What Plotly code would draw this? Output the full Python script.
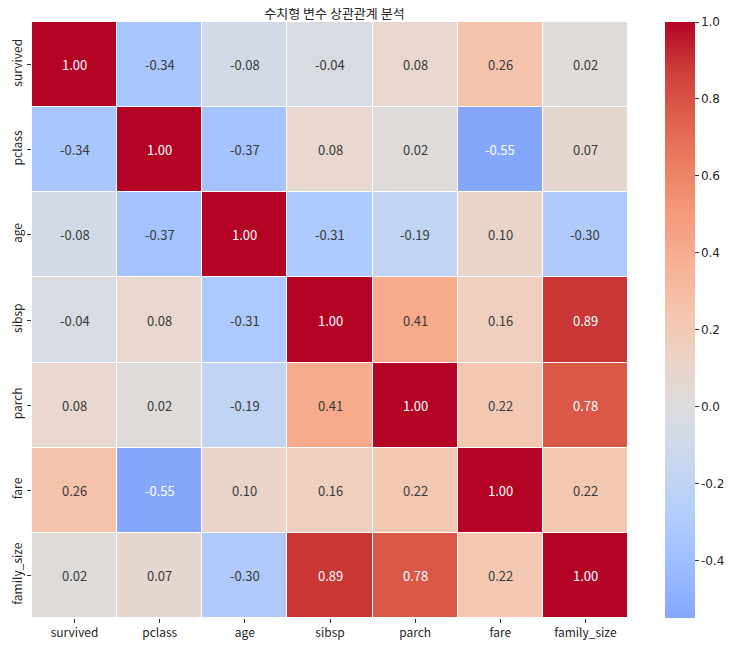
import plotly.graph_objects as go
import numpy as np

cols = ["survived", "pclass", "age", "sibsp", "parch", "fare", "family_size"]

survived = [1.00, -0.34, -0.08, -0.04, 0.08, 0.26, 0.02]
pclass = [-0.34, 1.00, -0.37, 0.08, 0.02, -0.55, 0.07]
age = [-0.08, -0.37, 1.00, -0.31, -0.19, 0.10, -0.30]
sibsp = [-0.04, 0.08, -0.31, 1.00, 0.41, 0.16, 0.89]
parch = [0.08, 0.02, -0.19, 0.41, 1.00, 0.22, 0.78]
fare = [0.26, -0.55, 0.10, 0.16, 0.22, 1.00, 0.22]
family_size = [0.02, 0.07, -0.30, 0.89, 0.78, 0.22, 1.00]

corr = np.array([survived, pclass, age, sibsp, parch, fare, family_size])

# matplotlib coolwarm (subsampled), seaborn center=0 -> cmap spans -1..1
cw_r = [0.2298, 0.3039, 0.3830, 0.4667, 0.5530, 0.6392, 0.7222, 0.7987, 0.8654,
        0.9241, 0.9589, 0.9700, 0.9580, 0.9239, 0.8692, 0.7956, 0.7057]
cw_g = [0.2987, 0.4065, 0.5094, 0.6046, 0.6889, 0.7596, 0.8140, 0.8498, 0.8654,
        0.8274, 0.7698, 0.6943, 0.6028, 0.4973, 0.3783, 0.2413, 0.0156]
cw_b = [0.7537, 0.8450, 0.9174, 0.9682, 0.9954, 0.9982, 0.9766, 0.9317, 0.8654,
        0.7745, 0.6780, 0.5794, 0.4818, 0.3880, 0.3003, 0.2205, 0.1502]

zmin, zmax = corr.min(), 1.0
t = np.linspace(0, 1, len(cw_r))
tmin = (zmin + 1) / 2
stops = [tmin] + [x for x in t if x > tmin]
colorscale = []
for s in stops:
    r = np.interp(s, t, cw_r)
    g = np.interp(s, t, cw_g)
    b = np.interp(s, t, cw_b)
    p = ((-1 + 2 * s) - zmin) / (zmax - zmin)
    colorscale.append([min(max(p, 0), 1), f"rgb({r*255:.0f},{g*255:.0f},{b*255:.0f})"])
colorscale[-1][0] = 1.0

fig = go.Figure(go.Heatmap(
    z=corr, x=cols, y=cols,
    zmin=zmin, zmax=zmax,
    colorscale=colorscale,
    xgap=1, ygap=1,
    colorbar=dict(
        x=1.062, xanchor="left", y=0, yanchor="bottom", len=1.0,
        xpad=0, ypad=0,
        thickness=30, outlinewidth=0,
        tickvals=[-0.4, -0.2, 0.0, 0.2, 0.4, 0.6, 0.8, 1.0],
        ticktext=["-0.4", "-0.2", "0.0", "0.2", "0.4", "0.6", "0.8", "1.0"],
        ticks="outside", ticklen=4, tickcolor="#333",
        tickfont=dict(family="DejaVu Sans", size=12, color="#262626"),
    ),
    hoverinfo="skip",
))

for i, rname in enumerate(cols):
    for j, cname in enumerate(cols):
        val = corr[i, j]
        col = "white" if abs(val) >= 0.5 else "#3a3a3a"
        fig.add_annotation(x=cname, y=rname, text=f"{val:.2f}", showarrow=False,
                           font=dict(size=13, color=col))

fig.update_layout(
    width=737, height=644,
    margin=dict(l=24, r=117, t=14, b=34, autoexpand=False),
    paper_bgcolor="white", plot_bgcolor="white",
    font=dict(family="Noto Sans CJK KR", color="#262626"),
    title=dict(text="수치형 변수 상관관계 분석", x=0.443, xanchor="center",
               yref="container", y=0.991, yanchor="middle",
               font=dict(size=13, color="#262626")),
)
fig.update_xaxes(showgrid=False, zeroline=False, ticks="outside", ticklen=4,
                 tickcolor="#333", tickfont=dict(size=12), automargin=False)
fig.update_yaxes(autorange="reversed", showgrid=False, zeroline=False,
                 ticks="outside", ticklen=4, tickcolor="#333", tickangle=-90,
                 tickfont=dict(size=12), automargin=False)

fig.write_html("out.html")
